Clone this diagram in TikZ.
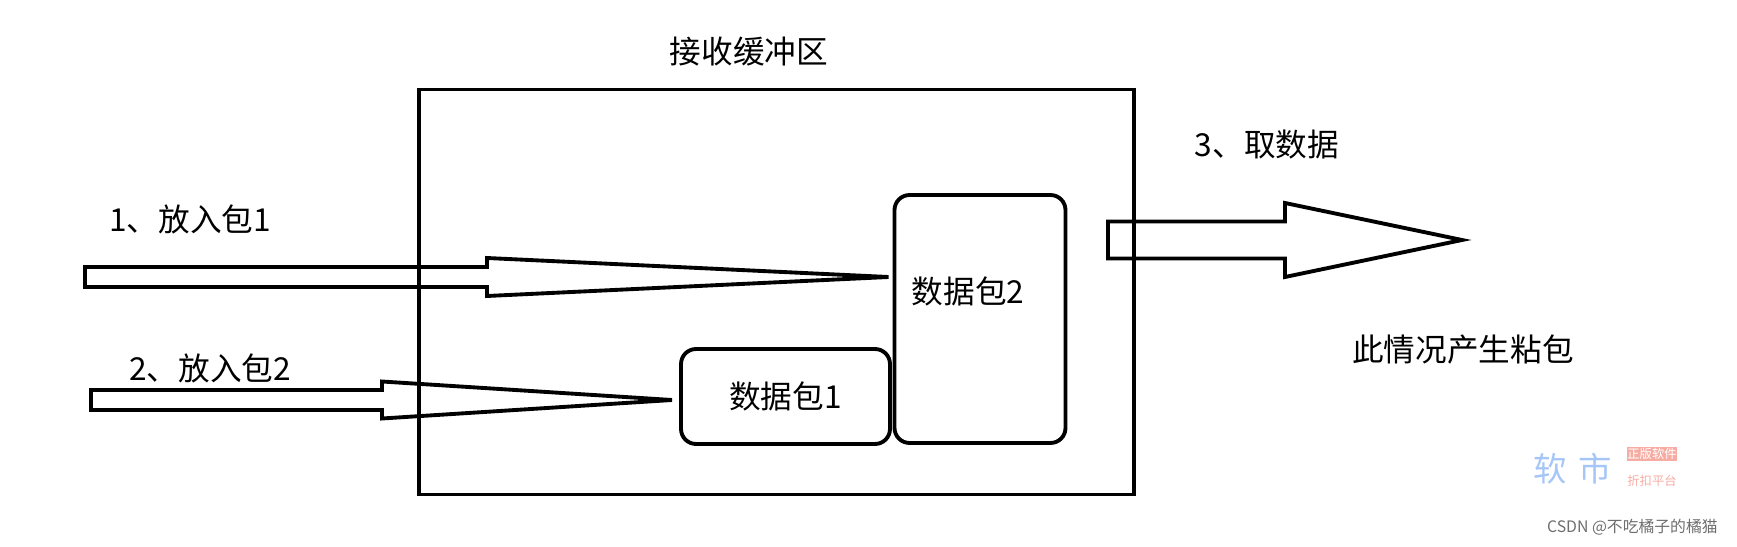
\documentclass[tikz,border=0pt]{standalone}
\usepackage{fontspec}
\newfontfamily\cjk{Noto Sans CJK SC}
\usetikzlibrary{calc}
\definecolor{wmblue}{RGB}{165,198,246}
\definecolor{wmpink}{RGB}{246,172,162}
\definecolor{wmgrey}{RGB}{110,110,110}

\begin{document}
\begin{tikzpicture}[x=0.02cm,y=-0.02cm,
    every node/.style={font=\cjk\fontsize{18}{20}\selectfont,inner sep=0pt},
    box/.style={draw,line width=2.2pt},
    pkt/.style={draw,line width=2.2pt,rounded corners=0.3cm},
    blk/.style={draw,line width=2.2pt}]
  \useasboundingbox (0,0) rectangle (1737,547);

  \node[box,minimum width=14.3cm,minimum height=8.1cm] (buffer) at (776.5,292) {};
  \node (title) at (749,52) {接收缓冲区};

  \node[pkt,minimum width=3.42cm,minimum height=4.96cm] (pkt2) at (980,319) {};
  \node (pkt2txt) at ($(pkt2)+(-12,-28)$) {数据包2};
  \node[pkt,minimum width=4.18cm,minimum height=1.9cm] (pkt1) at (785.5,396.5) {数据包1};

  \coordinate (tail1) at (85,277);
  \coordinate (base1) at (487,277);
  \coordinate (tip1) at ($(pkt2.west |- tail1)+(-4,0)$);
  \draw[blk] ($(tail1)+(0,-10)$) -- ($(base1)+(0,-10)$) -- ($(base1)+(0,-19)$) -- (tip1)
    -- ($(base1)+(0,19)$) -- ($(base1)+(0,10)$) -- ($(tail1)+(0,10)$) -- cycle;
  \node (put1) at (190,219) {1、放入包1};

  \coordinate (tail2) at (91,400);
  \coordinate (base2) at (382,400);
  \coordinate (tip2) at ($(pkt1.west |- tail2)+(-7,0)$);
  \draw[blk] ($(tail2)+(0,-10)$) -- ($(base2)+(0,-10)$) -- ($(base2)+(0,-18.5)$) -- (tip2)
    -- ($(base2)+(0,18.5)$) -- ($(base2)+(0,10)$) -- ($(tail2)+(0,10)$) -- cycle;
  \node (put2) at (210,368) {2、放入包2};

  \coordinate (tail3) at (1108,240);
  \coordinate (base3) at (1285,240);
  \coordinate (tip3) at (1462,240);
  \draw[blk] ($(tail3)+(0,-18.5)$) -- ($(base3)+(0,-18.5)$) -- ($(base3)+(0,-37)$) -- (tip3)
    -- ($(base3)+(0,37)$) -- ($(base3)+(0,18.5)$) -- ($(tail3)+(0,18.5)$) -- cycle;
  \node (take) at (1267,145) {3、取数据};
  \node (note) at (1463,350) {此情况产生粘包};

  \node[text=wmblue,font=\cjk\fontsize{19}{20}\selectfont] (wm1) at (1573,469) {软\hspace{0.35em}市};
  \node[fill=wmpink,text=white,font=\cjk\fontsize{7}{8}\selectfont,inner sep=0.5pt] (wm2) at (1652,454) {正版软件};
  \node[text=wmpink,font=\cjk\fontsize{7}{8}\selectfont] (wm3) at (1652,481) {折扣平台};
  \node[text=wmgrey,font=\cjk\fontsize{9}{10}\selectfont,anchor=east] (csdn) at (1718,527) {CSDN @不吃橘子的橘猫};
\end{tikzpicture}
\end{document}
